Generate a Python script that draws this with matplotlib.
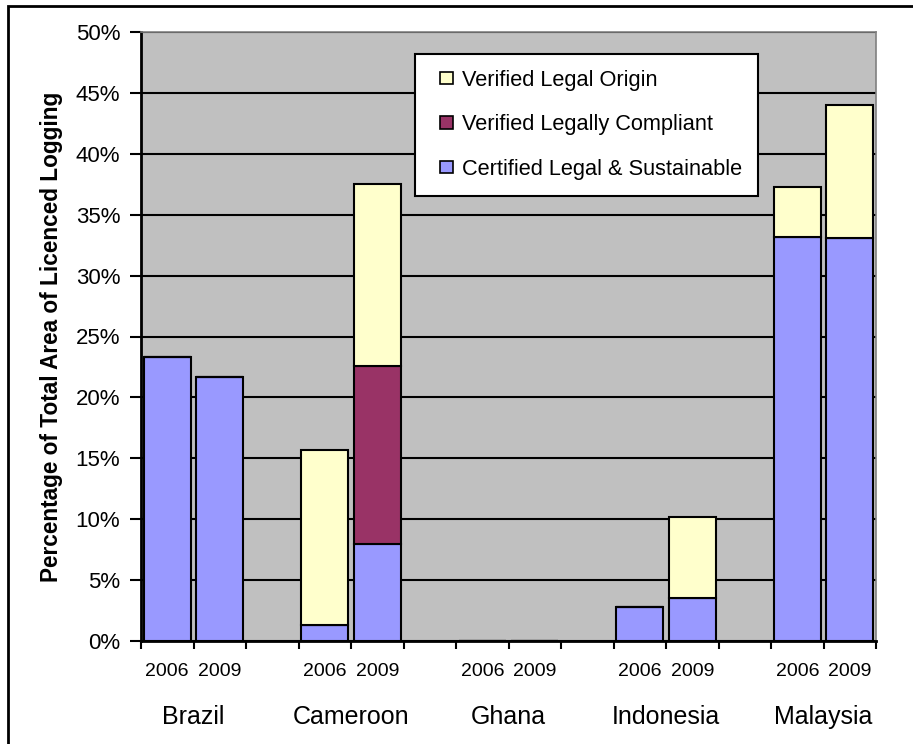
import numpy as np
import matplotlib
matplotlib.use("Agg")
import matplotlib.pyplot as plt
from matplotlib.patches import Patch, Rectangle
from matplotlib.legend_handler import HandlerPatch

plt.rcParams['font.family'] = ['Liberation Sans', 'DejaVu Sans']

countries = ["Brazil", "Cameroon", "Ghana", "Indonesia", "Malaysia"]
years = ["2006", "2009"]

# percent of licenced logging area, order: country x year
certified = [23.3, 21.7, 1.3, 8.0, 0.0, 0.0, 2.8, 3.5, 33.2, 33.1]
compliant = [0.0, 0.0, 0.0, 14.6, 0.0, 0.0, 0.0, 0.0, 0.0, 0.0]
origin    = [0.0, 0.0, 14.4, 14.9, 0.0, 0.0, 0.0, 6.7, 4.1, 10.9]

series = [("Certified Legal & Sustainable", certified, "#9999FF"),
          ("Verified Legally Compliant", compliant, "#993366"),
          ("Verified Legal Origin", origin, "#FFFFCC")]

fig = plt.figure(figsize=(9.13, 7.44), dpi=100)
ax = fig.add_axes([141/913, 103/744, 735/913, 609/744])
ax.set_facecolor("#C0C0C0")

# slot positions: 2006, 2009, then an empty slot between countries
pos = []
for i in range(len(countries)):
    for j in range(len(years)):
        pos.append(3*i + j + 0.5)
pos = np.array(pos)

bottom = np.zeros(len(pos))
handles = {}
for name, vals, col in series:
    vals = np.array(vals)
    ax.bar(pos, vals, width=0.9, bottom=bottom, color=col,
           edgecolor="black", linewidth=1.5, zorder=3)
    bottom += vals
    handles[name] = Patch(facecolor=col, edgecolor="black", linewidth=1.2)

#Grid
ax.set_ylim(0, 50)
ax.set_xlim(0, 3*len(countries) - 1)
ax.set_yticks(np.arange(0, 51, 5))
ax.set_yticklabels(["%d%%" % v for v in range(0, 51, 5)], fontsize=16)
ax.yaxis.grid(True, color="black", linewidth=1.5)
ax.set_axisbelow(True)
ax.tick_params(axis="y", direction="out", length=8, width=1.5, pad=7)

#x ticks at slot edges, year labels as minor ticks
ax.set_xticks(np.arange(0, 3*len(countries)))
ax.set_xticklabels([])
ax.tick_params(axis="x", which="major", direction="out", length=6, width=1.5)
ax.set_xticks(pos, minor=True)
ax.set_xticklabels(years * len(countries), minor=True, fontsize=14)
ax.tick_params(axis="x", which="minor", length=0, pad=16)

for i, c in enumerate(countries):
    ax.text(3*i + 1, -0.124, c, transform=ax.get_xaxis_transform(),
            ha="center", va="center", fontsize=18)

ax.set_ylabel("Percentage of Total Area of Licenced Logging",
              fontsize=16.3, fontweight="bold", labelpad=9)

for s in ["left", "bottom"]:
    ax.spines[s].set_linewidth(2)
    ax.spines[s].set_color("black")
for s in ["top", "right"]:
    ax.spines[s].set_linewidth(1.2)
    ax.spines[s].set_color("#808080")

# small square key pushed to the right end of the handle box
def square_key(legend, orig_handle, xdescent, ydescent, width, height, fontsize):
    return Rectangle((width - height - xdescent, -ydescent), height, height)

#Legend (top to bottom as in the original)
order = ["Verified Legal Origin", "Verified Legally Compliant",
         "Certified Legal & Sustainable"]
leg = ax.legend([handles[k] for k in order], order,
                loc="upper left", bbox_to_anchor=(415/913, 1 - 54/744),
                bbox_transform=fig.transFigure, borderaxespad=0,
                fontsize=15.7, handlelength=1.0, handleheight=0.5,
                handletextpad=0.45, labelspacing=1.08, borderpad=0.72,
                handler_map={Patch: HandlerPatch(patch_func=square_key)},
                fancybox=False, framealpha=1, edgecolor="black")
leg.get_frame().set_linewidth(1.5)
leg.set_zorder(5)

# outer chart border
fig.patches.append(Rectangle((8/913, -0.1), 1.2, 1.1 - 6/744,
                             transform=fig.transFigure, fill=False,
                             edgecolor="black", linewidth=2))

plt.savefig("out.png", dpi=100)
